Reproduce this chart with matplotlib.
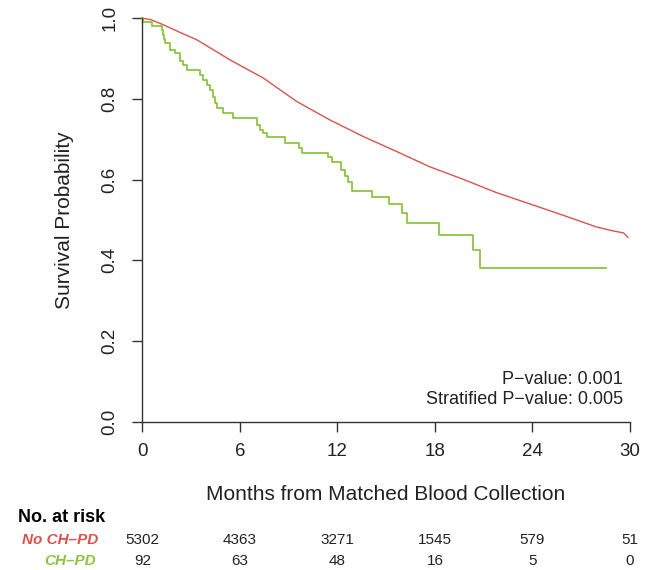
import matplotlib
matplotlib.use('Agg')
import matplotlib.pyplot as plt
from matplotlib.transforms import blended_transform_factory

plt.rcParams['font.family'] = ['Liberation Sans', 'DejaVu Sans']

# 数据
green_t = [0, 0.06, 0.58, 1.19, 1.26, 1.33, 1.40, 1.70, 2.01, 2.32, 2.52, 2.73, 3.55, 3.75,
           3.96, 4.16, 4.37, 4.47, 4.57, 4.98, 5.59, 7.03, 7.23, 7.44, 7.64, 8.77, 9.65,
           9.85, 11.43, 11.64, 12.2, 12.45, 12.65, 12.87, 14.13, 15.17, 16.0, 16.3, 18.26,
           20.34, 20.8, 28.54]
green_s = [1.0, 0.990, 0.981, 0.970, 0.959, 0.948, 0.938, 0.922, 0.914, 0.893, 0.885, 0.871,
           0.860, 0.847, 0.835, 0.823, 0.806, 0.790, 0.777, 0.765, 0.752, 0.736, 0.723,
           0.715, 0.705, 0.690, 0.678, 0.665, 0.657, 0.645, 0.624, 0.608, 0.595, 0.573,
           0.558, 0.540, 0.517, 0.493, 0.462, 0.425, 0.381, 0.381]

red_t = [0, 0.5, 1.29, 2.32, 3.34, 4.37, 5.39, 7.44, 9.49, 11.54, 13.59, 15.63, 17.68,
         19.73, 21.78, 23.83, 25.87, 27.92, 28.95, 29.6, 29.87]
red_s = [1.0, 0.997, 0.984, 0.965, 0.947, 0.922, 0.897, 0.852, 0.794, 0.748, 0.707, 0.670,
         0.632, 0.601, 0.568, 0.540, 0.512, 0.483, 0.473, 0.468, 0.457]

x_ticks = [0, 6, 12, 18, 24, 30]
y_ticks = [0.0, 0.2, 0.4, 0.6, 0.8, 1.0]
risk_red = [5302, 4363, 3271, 1545, 579, 51]
risk_green = [92, 63, 48, 16, 5, 0]

red = '#d9534d'
green = '#8cc540'
axc = '#333333'
txt = '#222222'

fig = plt.figure(figsize=(6.64, 5.70), dpi=100)
ax = fig.add_axes([142.3 / 664, 1 - 421.7 / 570, (630 - 142.3) / 664, (421.7 - 18.3) / 570])

ax.plot(red_t, red_s, color=red, lw=1.0, clip_on=False)
ax.step(green_t, green_s, where='post', color=green, lw=1.3, clip_on=False)

ax.set_xlim(0, 30)
ax.set_ylim(0, 1)
for s in ['top', 'right']:
    ax.spines[s].set_visible(False)
for s in ['left', 'bottom']:
    ax.spines[s].set_color(axc)
    ax.spines[s].set_linewidth(1.0)

ax.set_xticks(x_ticks)
ax.set_yticks(y_ticks)
ax.set_yticklabels(['%.1f' % v for v in y_ticks], rotation=90, va='center')
ax.tick_params(axis='both', length=7, width=1.0, color=axc, labelsize=13.5, labelcolor=txt)
ax.tick_params(axis='x', pad=8)
ax.tick_params(axis='y', pad=10)

ax.set_ylabel('Survival Probability', fontsize=15, labelpad=20, color=txt)

ax.text(0.985, 0.105, 'P\u2212value: 0.001', transform=ax.transAxes, ha='right', va='center',
        fontsize=13, color=txt)
ax.text(0.985, 0.055, 'Stratified P\u2212value: 0.005', transform=ax.transAxes, ha='right', va='center',
        fontsize=13, color=txt)

# 风险表
fig.text(386 / 664, 1 - 494 / 570, 'Months from Matched Blood Collection', ha='center', va='center',
         fontsize=15, color=txt)
fig.text(18 / 664, 1 - 518 / 570, 'No. at risk', ha='left', va='center', fontsize=13, fontweight='bold')
fig.text(98 / 664, 1 - 540 / 570, 'No CH\u2013PD', ha='right', va='center', fontsize=11,
         fontweight='bold', style='italic', color=red)
fig.text(96 / 664, 1 - 561 / 570, 'CH\u2013PD', ha='right', va='center', fontsize=11,
         fontweight='bold', style='italic', color=green)

tr = blended_transform_factory(ax.transData, fig.transFigure)
for x, a, b in zip(x_ticks, risk_red, risk_green):
    ax.text(x, 1 - 540 / 570, str(a), transform=tr, ha='center', va='center', fontsize=11,
            color=txt, clip_on=False)
    ax.text(x, 1 - 561 / 570, str(b), transform=tr, ha='center', va='center', fontsize=11,
            color=txt, clip_on=False)

fig.savefig('out.png', dpi=100, facecolor='white')
